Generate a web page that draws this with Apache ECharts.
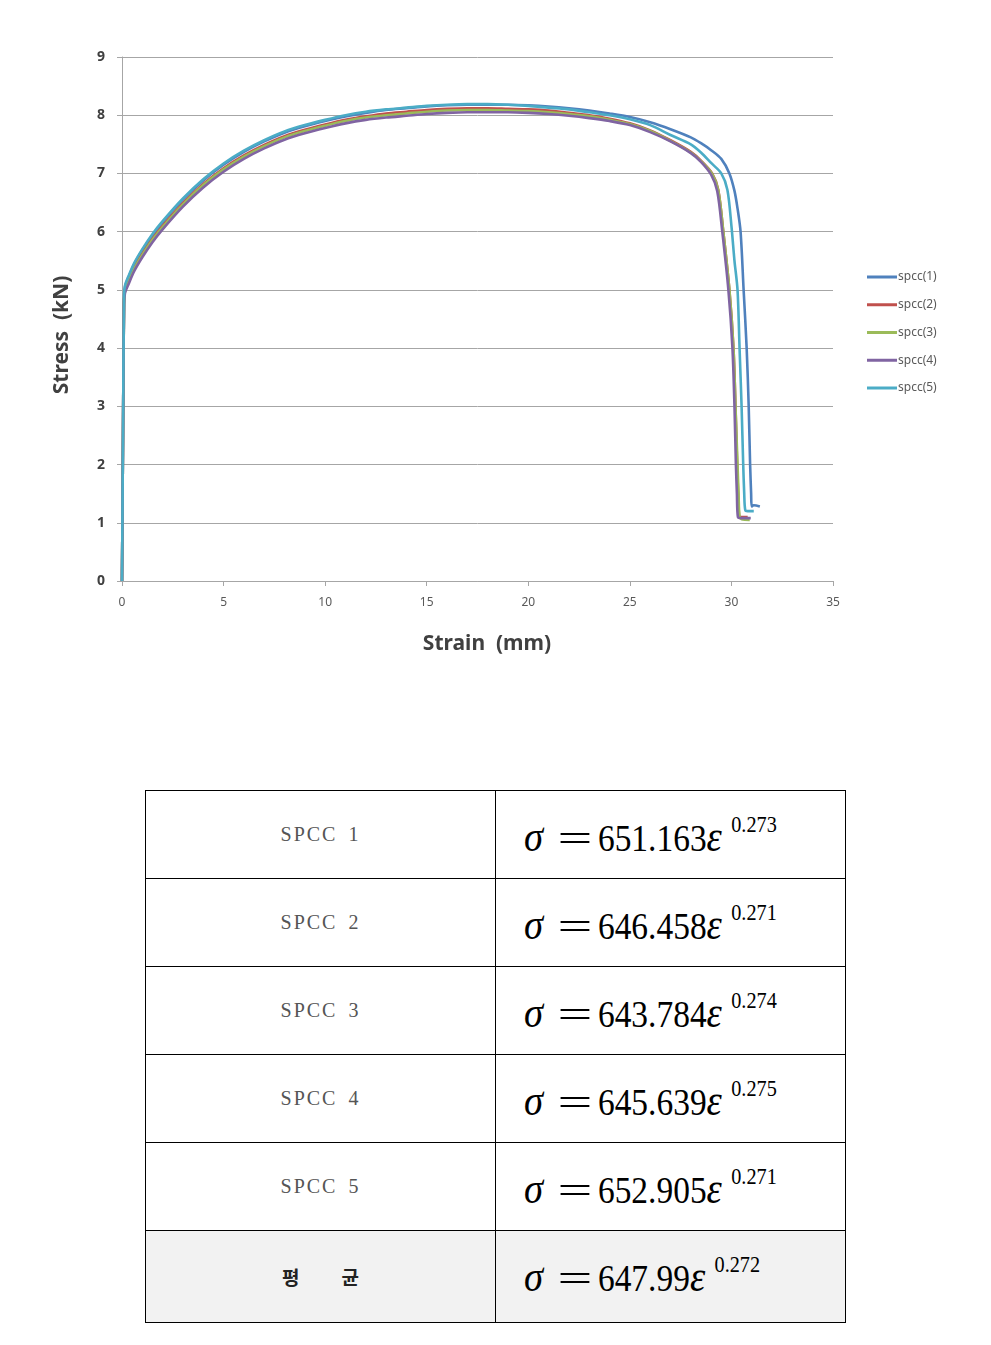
<!DOCTYPE html>
<html>
<head>
<meta charset="utf-8">
<script src="https://cdn.jsdelivr.net/npm/echarts@6/dist/echarts.min.js"></script>
<style>
  html, body { margin: 0; padding: 0; background: #fff; width: 991px; height: 1345px; overflow: hidden; }
  #chart { position: absolute; left: 0; top: 0; width: 991px; height: 700px; }
  #tbl { position: absolute; left: 145px; top: 790px; border-collapse: collapse; width: 700px; table-layout: fixed; }
  #tbl td { border: 1px solid #000; padding: 0; }
  #tbl td.name { width: 349px; text-align: center; font-family: "Liberation Serif", serif; font-size: 20px; color: #555; letter-spacing: 2px; word-spacing: 4px; }
  #tbl td.eq { width: 349px; position: relative; }
  #tbl tr.avg td { background: #f2f2f2; }
  #tbl td.name .ko { font-family: "Noto Sans CJK KR", sans-serif; font-weight: bold; color: #222; font-size: 19px; letter-spacing: 0; }
  .f { position: absolute; left: 28px; white-space: nowrap; font-family: "Liberation Serif", "Times New Roman", serif; font-size: 38px; color: #000; transform: scaleX(0.88); transform-origin: left center; line-height: 1; }
  .f .g { display: inline-block; font-style: italic; font-size: 44px; line-height: 1; }
  .f .s1 { width: 38px; }
  .f .eqs { display: inline-block; width: 46px; }
  .f .eqs span { display: inline-block; transform: scaleX(1.85); transform-origin: left center; }
  .f .s2 { width: 28px; }
  .f .sp { display: inline-block; font-size: 23px; position: relative; top: -19px; }
</style>
</head>
<body>
<div id="chart"></div>
<table id="tbl"></table>
<script>
// ---------- data ----------
const seriesNames = ["spcc(1)", "spcc(2)", "spcc(3)", "spcc(4)", "spcc(5)"];
const xTicks = [0, 5, 10, 15, 20, 25, 30, 35];
const yTicks = [0, 1, 2, 3, 4, 5, 6, 7, 8, 9];

const strain1 = [0, 0.05, 0.1, 0.15, 0.3, 0.6, 1, 1.5, 2, 3, 4, 5, 6, 7, 8, 9, 10, 11, 12, 13, 14, 15, 16, 17, 18, 19, 20, 21, 22, 23, 24, 25, 26, 27, 28, 28.5, 29, 29.5, 29.9, 30.15, 30.3, 30.45, 30.6, 30.75, 30.85, 30.92, 30.97, 31.0, 31.1, 31.4];
const stress1 = [0, 2.5, 4.85, 5.06, 5.2, 5.44, 5.68, 5.94, 6.16, 6.55, 6.88, 7.15, 7.37, 7.55, 7.7, 7.81, 7.9, 7.98, 8.04, 8.09, 8.12, 8.15, 8.17, 8.18, 8.18, 8.18, 8.17, 8.15, 8.12, 8.08, 8.03, 7.97, 7.88, 7.76, 7.62, 7.52, 7.4, 7.25, 7.0, 6.7, 6.4, 6.0, 5.0, 4.0, 3.0, 2.0, 1.5, 1.28, 1.3, 1.28];

const strain2 = [0, 0.05, 0.1, 0.15, 0.3, 0.6, 1, 1.5, 2, 3, 4, 5, 6, 7, 8, 9, 10, 11, 12, 13, 14, 15, 16, 17, 18, 19, 20, 21, 22, 23, 24, 25, 26, 27, 28, 28.5, 29.05, 29.35, 29.6, 29.9, 30.1, 30.2, 30.28, 30.33, 30.38, 30.45, 30.8];
const stress2 = [0, 2.5, 4.8, 5.0, 5.14, 5.38, 5.62, 5.88, 6.1, 6.49, 6.82, 7.09, 7.31, 7.49, 7.64, 7.75, 7.84, 7.92, 7.98, 8.03, 8.06, 8.09, 8.11, 8.12, 8.12, 8.11, 8.1, 8.08, 8.04, 8.0, 7.94, 7.86, 7.74, 7.57, 7.37, 7.22, 7.0, 6.72, 6.0, 5.0, 4.0, 3.0, 2.0, 1.5, 1.12, 1.1, 1.1];

const strain3 = [0, 0.05, 0.1, 0.15, 0.3, 0.6, 1, 1.5, 2, 3, 4, 5, 6, 7, 8, 9, 10, 11, 12, 13, 14, 15, 16, 17, 18, 19, 20, 21, 22, 23, 24, 25, 26, 27, 28, 28.5, 29.05, 29.35, 29.6, 29.9, 30.1, 30.2, 30.3, 30.35, 30.4, 30.5, 30.9];
const stress3 = [0, 2.5, 4.78, 4.98, 5.12, 5.36, 5.6, 5.86, 6.08, 6.47, 6.8, 7.07, 7.29, 7.47, 7.62, 7.73, 7.82, 7.9, 7.96, 8.0, 8.03, 8.06, 8.08, 8.09, 8.09, 8.08, 8.07, 8.05, 8.02, 7.98, 7.92, 7.85, 7.73, 7.56, 7.36, 7.21, 6.99, 6.71, 6.0, 5.0, 4.0, 3.0, 2.0, 1.5, 1.1, 1.06, 1.05];

const strain4 = [0, 0.05, 0.1, 0.15, 0.3, 0.6, 1, 1.5, 2, 3, 4, 5, 6, 7, 8, 9, 10, 11, 12, 13, 14, 15, 16, 17, 18, 19, 20, 21, 22, 23, 24, 25, 26, 27, 28, 28.5, 29.0, 29.3, 29.55, 29.85, 30.05, 30.15, 30.22, 30.27, 30.32, 30.5, 30.95];
const stress4 = [0, 2.5, 4.75, 4.95, 5.08, 5.32, 5.56, 5.82, 6.04, 6.43, 6.76, 7.03, 7.25, 7.43, 7.58, 7.69, 7.78, 7.86, 7.92, 7.96, 7.99, 8.02, 8.04, 8.05, 8.05, 8.05, 8.04, 8.02, 7.99, 7.95, 7.9, 7.83, 7.71, 7.55, 7.35, 7.2, 6.98, 6.7, 6.0, 5.0, 4.0, 3.0, 2.0, 1.5, 1.1, 1.08, 1.08];

const strain5 = [0, 0.05, 0.1, 0.15, 0.3, 0.6, 1, 1.5, 2, 3, 4, 5, 6, 7, 8, 9, 10, 11, 12, 13, 14, 15, 16, 17, 18, 19, 20, 21, 22, 23, 24, 25, 26, 27, 28, 28.5, 29, 29.5, 29.8, 30.0, 30.15, 30.3, 30.4, 30.5, 30.58, 30.63, 30.68, 30.8, 31.1];
const stress5 = [0, 2.5, 4.9, 5.08, 5.22, 5.46, 5.7, 5.96, 6.18, 6.57, 6.9, 7.17, 7.39, 7.57, 7.72, 7.83, 7.92, 8.0, 8.06, 8.1, 8.13, 8.16, 8.18, 8.19, 8.19, 8.18, 8.16, 8.13, 8.1, 8.05, 8.0, 7.93, 7.83, 7.66, 7.5, 7.36, 7.18, 7.0, 6.72, 6.1, 5.5, 5.0, 4.0, 3.0, 2.0, 1.5, 1.22, 1.2, 1.2];

const tableNames = ["SPCC 1", "SPCC 2", "SPCC 3", "SPCC 4", "SPCC 5", "평균"];
const tableCoef = ["651.163", "646.458", "643.784", "645.639", "652.905", "647.99"];
const tableExp = ["0.273", "0.271", "0.274", "0.275", "0.271", "0.272"];

// ---------- chart ----------
const colors = ["#4F81BD", "#C0504D", "#9BBB59", "#8064A2", "#4BACC6"];
const strains = [strain1, strain2, strain3, strain4, strain5];
const stresses = [stress1, stress2, stress3, stress4, stress5];

const chart = echarts.init(document.getElementById('chart'), null, { renderer: 'canvas' });
const series = seriesNames.map((name, i) => ({
  name: name,
  type: 'line',
  showSymbol: false,
  symbol: 'none',
  smooth: 0.3,
  data: strains[i].map((x, k) => [x, stresses[i][k]]),
  lineStyle: { color: colors[i], width: 2.6 },
  itemStyle: { color: colors[i] },
  z: 2 + i
}));

chart.setOption({
  animation: false,
  backgroundColor: '#fff',
  color: colors,
  grid: { left: 122, right: 158, top: 57, bottom: 119, containLabel: false },
  xAxis: {
    type: 'value', min: xTicks[0], max: xTicks[xTicks.length - 1], interval: 5,
    axisLine: { show: true, lineStyle: { color: '#a6a6a6', width: 1 } },
    axisTick: { show: true, length: 5, lineStyle: { color: '#a6a6a6' } },
    axisLabel: { color: '#595959', fontSize: 12, margin: 16, fontFamily: 'Noto Sans' },
    splitLine: { show: false }
  },
  yAxis: {
    type: 'value', min: yTicks[0], max: yTicks[yTicks.length - 1], interval: 1,
    axisLine: { show: true, lineStyle: { color: '#a6a6a6', width: 1 } },
    axisTick: { show: true, length: 5, lineStyle: { color: '#a6a6a6' } },
    axisLabel: { color: '#404040', fontSize: 14, fontWeight: 'bold', margin: 17, fontFamily: 'Noto Sans' },
    splitLine: { show: true, lineStyle: { color: '#a6a6a6', width: 1 } }
  },
  legend: {
    orient: 'vertical', left: 862, top: 266,
    icon: 'rect', itemWidth: 30, itemHeight: 3, itemGap: 15.75,
    textStyle: { color: '#595959', fontSize: 12, fontFamily: 'Noto Sans', padding: [0, 0, 0, -4] },
    data: seriesNames
  },
  graphic: [
    { type: 'text', x: 62, y: 335, rotation: Math.PI / 2, style: { text: 'Stress  (kN)', font: 'bold 21px "Noto Sans", sans-serif', fill: '#404040', align: 'center', verticalAlign: 'middle', textAlign: 'center', textVerticalAlign: 'middle' } },
    { type: 'text', x: 487, y: 644, style: { text: 'Strain  (mm)', font: 'bold 21px "Noto Sans", sans-serif', fill: '#404040', align: 'center', verticalAlign: 'middle', textAlign: 'center', textVerticalAlign: 'middle' } }
  ],
  series: series
});

// ---------- table ----------
const tbl = document.getElementById('tbl');
const rowHeights = [88, 88, 88, 88, 88, 92];
tableNames.forEach((n, i) => {
  const tr = document.createElement('tr');
  if (i === tableNames.length - 1) tr.className = 'avg';
  tr.style.height = rowHeights[i] + 'px';
  const td1 = document.createElement('td');
  td1.className = 'name';
  if (i === tableNames.length - 1) {
    td1.innerHTML = '<span class="ko">' + n.charAt(0) + '</span><span class="ko" style="margin-left:42px">' + n.charAt(1) + '</span>';
  } else {
    td1.textContent = n;
  }
  const td2 = document.createElement('td');
  td2.className = 'eq';
  td2.innerHTML = '<div class="f" style="top:24px"><span class="g s1">σ</span><span class="eqs"><span>=</span></span>' + tableCoef[i] + '<span class="g s2">ε</span><span class="sp">' + tableExp[i] + '</span></div>';
  tr.appendChild(td1);
  tr.appendChild(td2);
  tbl.appendChild(tr);
});
</script>
</body>
</html>
